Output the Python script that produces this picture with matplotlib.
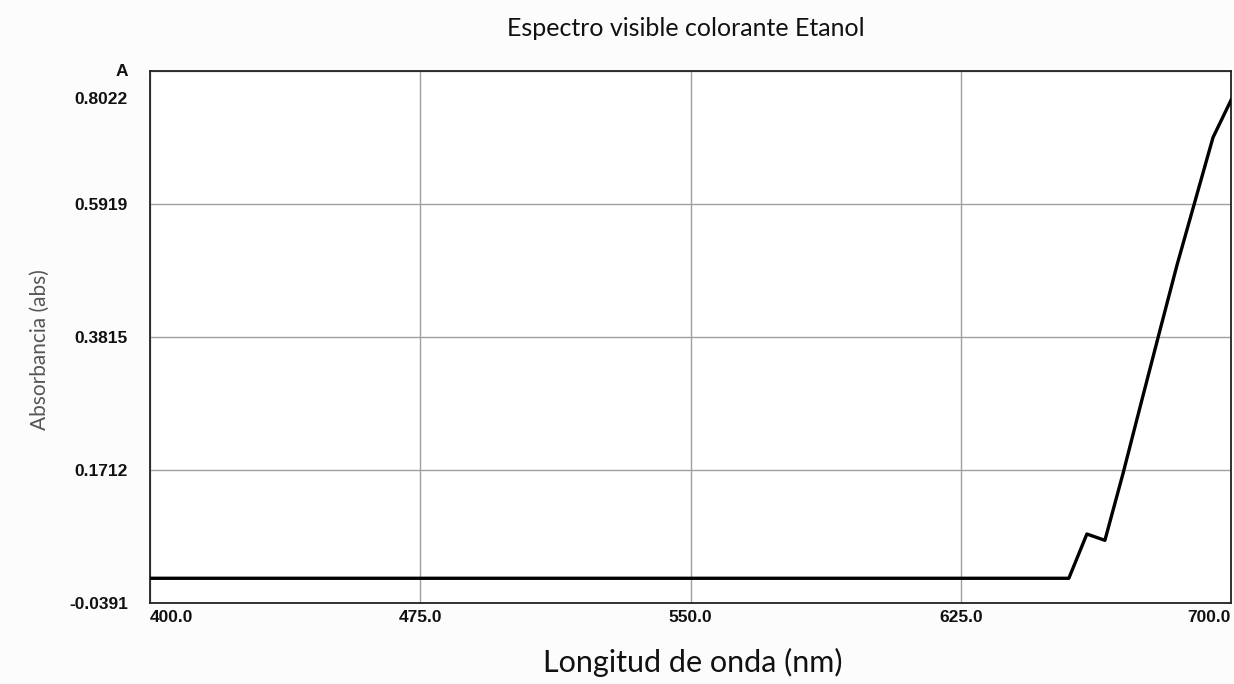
import matplotlib
matplotlib.use("Agg")
import matplotlib.pyplot as plt
import matplotlib.transforms as mtransforms

# Espectro visible
longitud_onda = [400, 655, 660, 665, 670, 675, 680, 685, 690, 695, 700]
absorbancia = [0.0, 0.0, 0.070, 0.060, 0.165, 0.276, 0.386, 0.495, 0.596, 0.697, 0.756]

x_ticks = [400.0, 475.0, 550.0, 625.0, 700.0]
y_ticks = [-0.0391, 0.1712, 0.3815, 0.5919, 0.8022]

fig = plt.figure(figsize=(12.34, 6.84), dpi=100, facecolor="#fcfcfc")
ax = fig.add_axes([150 / 1234, 1 - 603 / 684, 1081 / 1234, 532 / 684])
ax.set_facecolor("white")

ax.plot(longitud_onda, absorbancia, color="black", linewidth=2.4, zorder=3)

ax.set_xlim(400, 700)
ax.set_ylim(-0.0391, 0.8022)
ax.set_xticks(x_ticks)
ax.set_yticks(y_ticks)
ax.set_xticklabels([f"{v:.1f}" for v in x_ticks])
ax.set_yticklabels([f"{v:.4f}" for v in y_ticks])
ax.grid(True, color="#a0a0a0", linewidth=1)
ax.tick_params(length=0)
ax.tick_params(axis="x", pad=5)
ax.tick_params(axis="y", pad=16)
for lbl in ax.get_xticklabels() + ax.get_yticklabels():
    lbl.set_fontfamily("Liberation Sans")
    lbl.set_fontweight("bold")
    lbl.set_fontsize(12.5)
    lbl.set_color("#111111")

xl = ax.get_xticklabels()
xl[0].set_horizontalalignment("left")
xl[-1].set_horizontalalignment("right")

# la etiqueta superior va debajo de la "A"
yl = ax.get_yticklabels()
yl[-1].set_transform(yl[-1].get_transform() +
                     mtransforms.ScaledTranslation(0, -27 / 100, fig.dpi_scale_trans))

for spine in ax.spines.values():
    spine.set_edgecolor("#222222")
    spine.set_linewidth(1.3)

ax.text(-22 / 1081, 1.0, "A", transform=ax.transAxes, ha="right", va="center",
        fontsize=12.5, fontweight="bold", family="Liberation Sans", color="#111111")

fig.text(686 / 1234, 1 - 28 / 684, "Espectro visible colorante Etanol",
         ha="center", va="center", fontsize=18, family="Lato", color="#111111")
fig.text(693 / 1234, 1 - 662 / 684, "Longitud de onda (nm)",
         ha="center", va="center", fontsize=22, family="Lato", color="#111111")
fig.text(40 / 1234, 1 - 350 / 684, "Absorbancia (abs)", rotation=90,
         ha="center", va="center", fontsize=15, family="Lato", color="#555555")

fig.savefig("out.png", dpi=100, facecolor=fig.get_facecolor())
